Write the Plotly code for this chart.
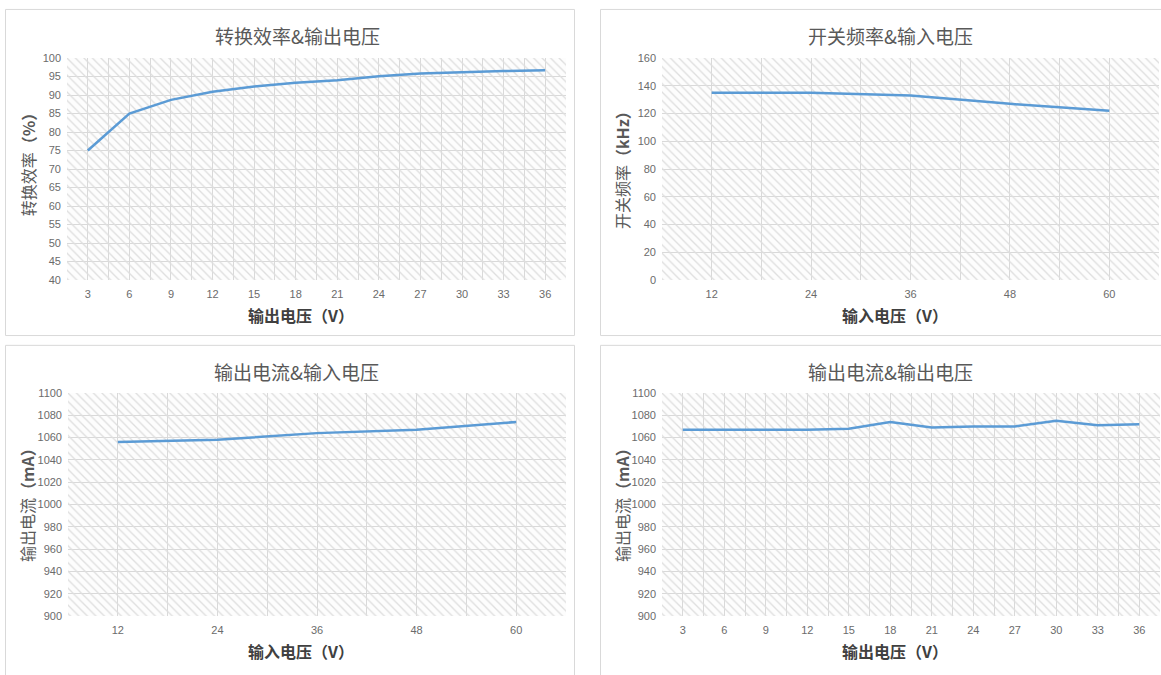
import plotly.graph_objects as go

W, H = 1161, 675

# ---------------- data ----------------
eff_vout = [3, 6, 9, 12, 15, 18, 21, 24, 27, 30, 33, 36]
eff_values = [75, 85, 88.7, 90.9, 92.3, 93.3, 94.0, 95.1, 95.8, 96.2, 96.5, 96.7]

freq_vin = [12, 24, 36, 48, 60]
freq_values = [135, 135, 133, 127, 122]

iout_vin = [12, 24, 36, 48, 60]
iout_vin_values = [1056, 1058, 1064, 1067, 1074]

iout_vout = [3, 6, 9, 12, 15, 18, 21, 24, 27, 30, 33, 36]
iout_vout_values = [1067, 1067, 1067, 1067, 1068, 1074, 1069, 1070, 1070, 1075, 1071, 1072]

titles = ["转换效率&输出电压", "开关频率&输入电压", "输出电流&输入电压", "输出电流&输出电压"]
xtitles = ["输出电压（V）", "输入电压（V）", "输入电压（V）", "输出电压（V）"]
ytitles = ["转换效率<b>（%）</b>", "开关频率<b>（kHz）</b>", "输出电流<b>（mA）</b>", "输出电流<b>（mA）</b>"]

# ---------------- layout helpers ----------------
panels = [
    dict(x=eff_vout, y=eff_values, step=3, yr=(40, 100), dy=5,
         plot=(67, 566, 53, 279), box=(5.5, 574.5, 3.5, 335.5),
         title=(297, 30), xt=(301, 315), yt=(28, 158)),
    dict(x=freq_vin, y=freq_values, step=12, yr=(0, 160), dy=20,
         plot=(662, 1159, 53, 279), box=(600.5, 1170, 3.5, 335.5),
         title=(890, 30), xt=(895, 315), yt=(622, 163)),
    dict(x=iout_vin, y=iout_vin_values, step=12, yr=(900, 1100), dy=20,
         plot=(68, 566, 394, 621), box=(5.5, 574.5, 345.5, 690),
         title=(296, 372), xt=(301, 657), yt=(27, 504)),
    dict(x=iout_vout, y=iout_vout_values, step=3, yr=(900, 1100), dy=20,
         plot=(662, 1160, 394, 621), box=(600.5, 1170, 345.5, 690),
         title=(890, 372), xt=(895, 657), yt=(622, 504)),
]

fig = go.Figure()
shapes = []
annotations = []
lay = {}

tick_font = dict(family="Liberation Sans Narrow, Liberation Sans, Arial", size=11, color="#6b6b6b")
grid_c = "#d9d9d9"
line_c = "#5B9BD5"

for i, p in enumerate(panels, start=1):
    xa = "x" if i == 1 else f"x{i}"
    ya = "y" if i == 1 else f"y{i}"
    x0p, x1p, y0p, y1p = p["plot"]
    half = p["step"] / 2
    xr = (p["x"][0] - half, p["x"][-1] + half)

    # hatched plot-area background (spans the axis ranges)
    fig.add_trace(go.Scatter(
        x=[xr[0], xr[1], xr[1], xr[0], xr[0]],
        y=[p["yr"][0], p["yr"][0], p["yr"][1], p["yr"][1], p["yr"][0]],
        mode="lines", line=dict(width=0), fill="toself",
        fillcolor="rgba(0,0,0,0)",
        fillpattern=dict(shape="\\", fgcolor="#dedede", size=6, solidity=0.22,
                         fillmode="replace"),
        hoverinfo="skip", showlegend=False, xaxis=xa, yaxis=ya))

    fig.add_trace(go.Scatter(
        x=p["x"], y=p["y"], mode="lines",
        line=dict(color=line_c, width=2.5),
        showlegend=False, xaxis=xa, yaxis=ya))

    lay["xaxis" if i == 1 else f"xaxis{i}"] = dict(
        domain=[x0p / W, x1p / W], anchor=ya, range=list(xr),
        tickmode="array", tickvals=p["x"], ticktext=[str(v) for v in p["x"]],
        showgrid=True, gridcolor=grid_c, gridwidth=1,
        minor=dict(tick0=xr[0], dtick=p["step"], showgrid=True, gridcolor=grid_c, gridwidth=1),
        zeroline=False, showline=False, ticks="", tickfont=tick_font, ticklabelstandoff=6,
        fixedrange=True)
    lay["yaxis" if i == 1 else f"yaxis{i}"] = dict(
        domain=[1 - y1p / H, 1 - y0p / H], anchor=xa, range=list(p["yr"]),
        dtick=p["dy"], tick0=p["yr"][0],
        showgrid=True, gridcolor=grid_c, gridwidth=1,
        zeroline=False, showline=False, ticks="", tickfont=tick_font, ticklabelstandoff=5,
        fixedrange=True)

    bx0, bx1, by0, by1 = p["box"]
    shapes.append(dict(type="rect", xref="paper", yref="paper",
                       x0=bx0 / W, x1=bx1 / W, y0=1 - by1 / H, y1=1 - by0 / H,
                       line=dict(color="#d9d9d9", width=1), layer="below"))

    tx, ty = p["title"]
    annotations.append(dict(text=titles[i - 1], xref="paper", yref="paper",
                            x=tx / W, y=1 - ty / H, xanchor="center", yanchor="middle",
                            showarrow=False,
                            font=dict(family="Noto Sans CJK SC", size=19, color="#595959")))
    xtx, xty = p["xt"]
    annotations.append(dict(text="<b>" + xtitles[i - 1] + "</b>", xref="paper", yref="paper",
                            x=xtx / W, y=1 - xty / H, xanchor="center", yanchor="middle",
                            showarrow=False,
                            font=dict(family="Noto Sans CJK SC", size=16, color="#404040")))
    ytx, yty = p["yt"]
    annotations.append(dict(text=ytitles[i - 1], xref="paper", yref="paper",
                            x=ytx / W, y=1 - yty / H, xanchor="center", yanchor="middle",
                            textangle=-90, showarrow=False,
                            font=dict(family="Noto Sans CJK SC", size=16, color="#595959")))

fig.update_layout(
    width=W, height=H, margin=dict(l=0, r=0, t=0, b=0),
    paper_bgcolor="white", plot_bgcolor="#fdfdfd",
    shapes=shapes, annotations=annotations, showlegend=False,
    **lay)

fig.write_html("out.html", config={"displayModeBar": False},
               post_script="document.body.style.margin='0';document.body.style.overflow='hidden';")
